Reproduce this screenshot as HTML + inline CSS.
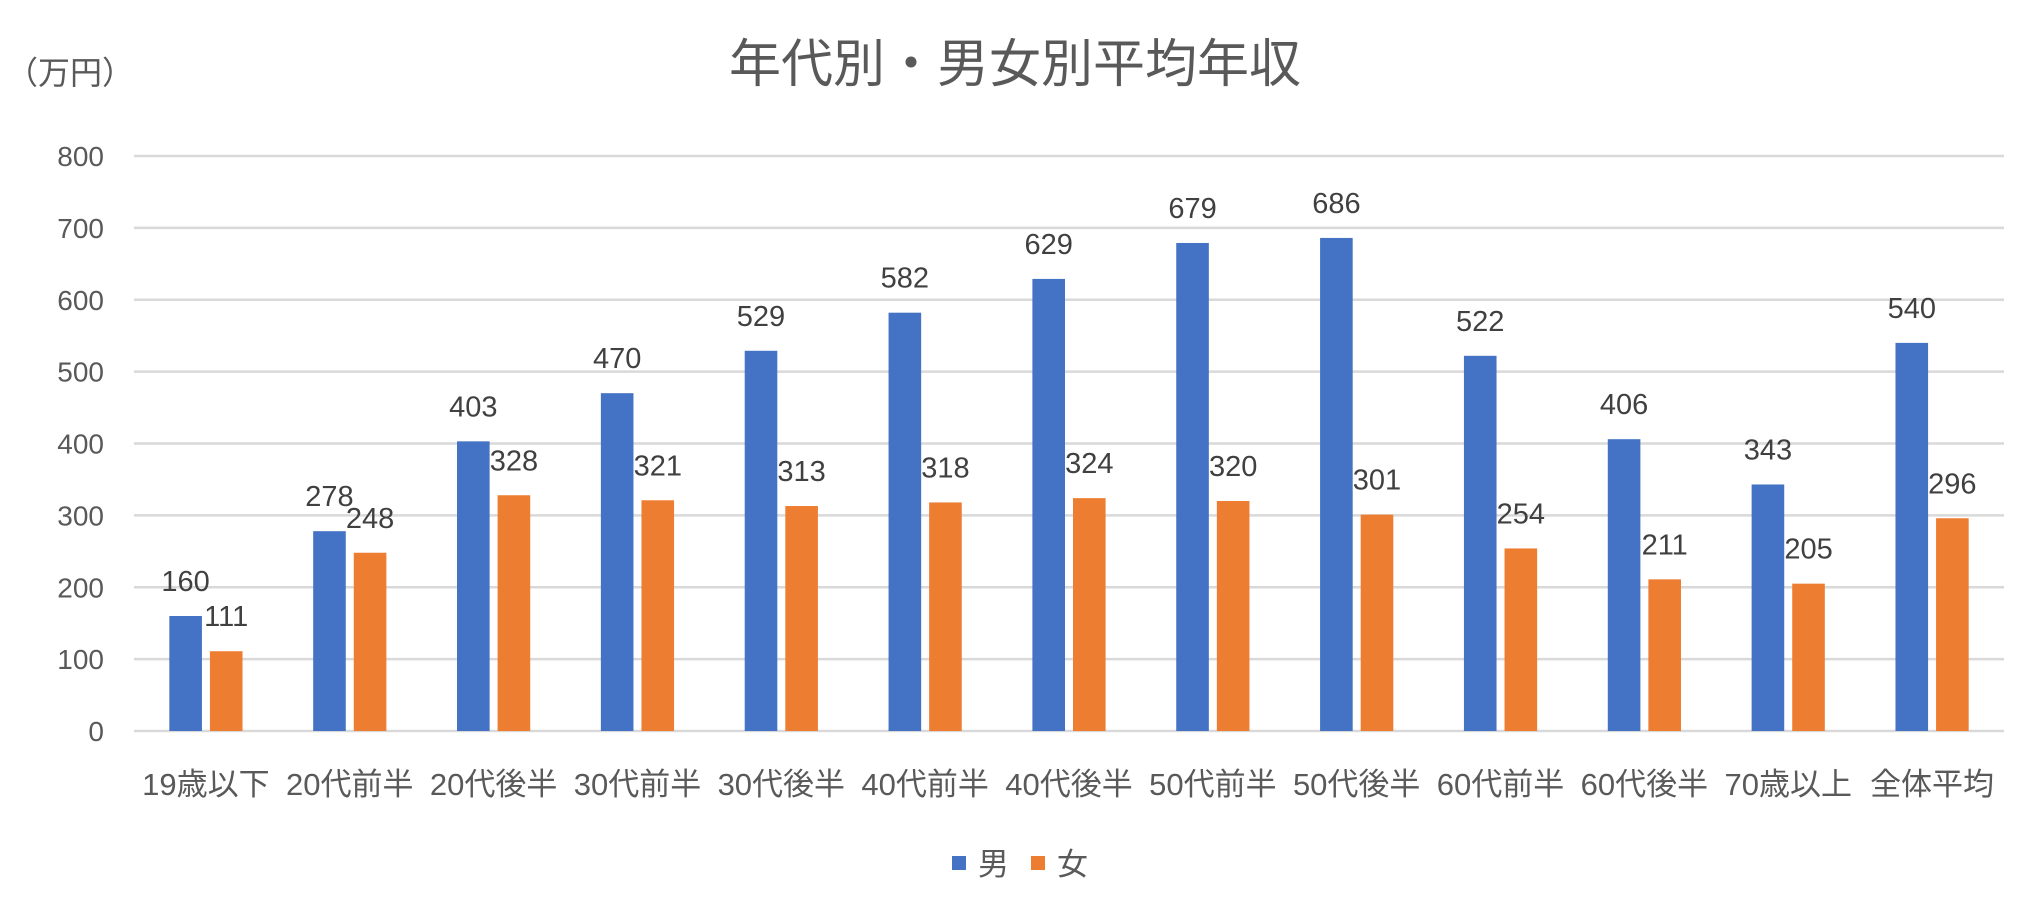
<!DOCTYPE html>
<html><head><meta charset="utf-8"><style>
html,body{margin:0;padding:0;background:#fff;}
svg{display:block;font-family:"Liberation Sans","Noto Sans CJK JP",sans-serif;}
</style></head><body>
<svg id="chart" width="2038" height="907" viewBox="0 0 2038 907">
<text x="1015" y="82" text-anchor="middle" font-size="52" fill="#595959">年代別・男女別平均年収</text>
<text x="6" y="84" font-size="32" fill="#595959">（万円）</text>
<g id="grid"></g><g id="bars"></g><g id="labels"></g>
<g>
<rect x="952" y="856" width="14" height="14" fill="#4472C4"/>
<text x="978" y="875" font-size="31" fill="#595959">男</text>
<rect x="1031" y="856" width="14" height="14" fill="#ED7D31"/>
<text x="1057" y="875" font-size="31" fill="#595959">女</text>
</g>
</svg>
<script>
const categories=["19歳以下","20代前半","20代後半","30代前半","30代後半","40代前半","40代後半","50代前半","50代後半","60代前半","60代後半","70歳以上","全体平均"];
const male=[160,278,403,470,529,582,629,679,686,522,406,343,540];
const female=[111,248,328,321,313,318,324,320,301,254,211,205,296];
const yTicks=[0,100,200,300,400,500,600,700,800];
const NS="http://www.w3.org/2000/svg";
const X0=134,X1=2004,Y0=731,Y1=156,MAX=800;
const band=(X1-X0)/categories.length;
const y=v=>Y0-(v/MAX)*(Y0-Y1);
const xc=i=>X0+band*(i+0.5);
function mk(tag,attrs,parent){const e=document.createElementNS(NS,tag);for(const k in attrs)e.setAttribute(k,attrs[k]);document.getElementById(parent).appendChild(e);return e;}
yTicks.forEach(t=>{
 const l=mk("line",{x1:X0,x2:X1,y1:y(t),y2:y(t),stroke:"#D9D9D9","stroke-width":2.5},"grid");
 
 
 const tx=mk("text",{x:104,y:y(t)+10,"text-anchor":"end","font-size":28,fill:"#595959"},"grid");
 tx.textContent=t;
 
 
});
const bw=32.6,gap=4;
categories.forEach((c,i)=>{
 const cx=xc(i);
 const bm=mk("rect",{x:cx-gap-bw,y:y(male[i]),width:bw,height:Y0-y(male[i]),fill:"#4472C4"},"bars");
 
 
 const bf=mk("rect",{x:cx+gap,y:y(female[i]),width:bw,height:Y0-y(female[i]),fill:"#ED7D31"},"bars");
 
 
 const lm=mk("text",{x:cx-gap-bw/2,y:y(male[i])-25,"text-anchor":"middle","font-size":29,fill:"#404040"},"labels");
 lm.textContent=male[i];
 
 
 const lf=mk("text",{x:cx+gap+bw/2,y:y(female[i])-25,"text-anchor":"middle","font-size":29,fill:"#404040"},"labels");
 lf.textContent=female[i];
 
 
 const cl=mk("text",{x:cx,y:795,"text-anchor":"middle","font-size":31,fill:"#595959"},"labels");
 cl.textContent=c;
 
 
});
</script>
</body></html>
